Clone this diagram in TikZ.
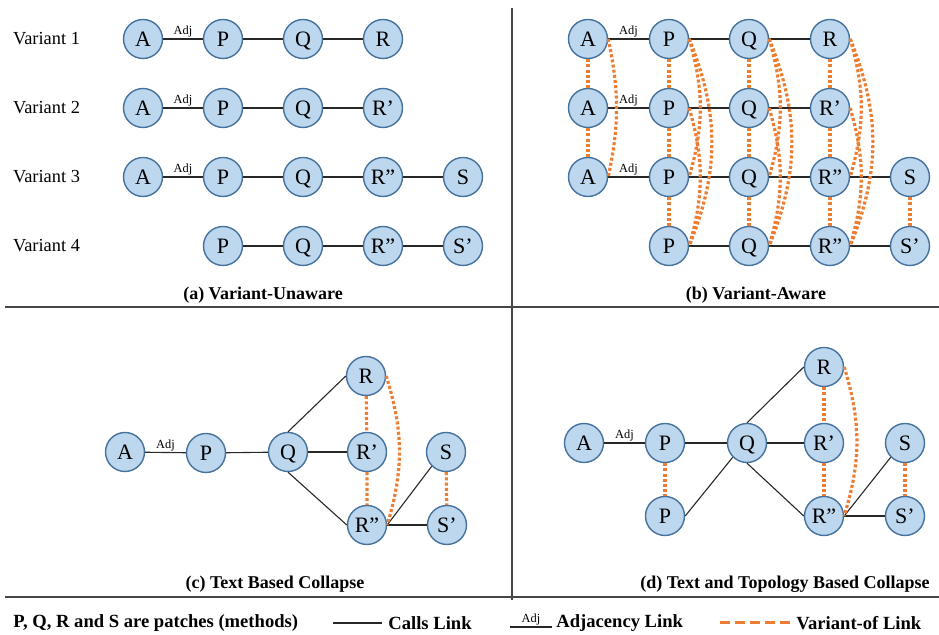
\documentclass[tikz,border=0pt]{standalone}
\usepackage{fontspec}
\setmainfont{Liberation Serif}
\usetikzlibrary{positioning}

\definecolor{patchfill}{RGB}{189,215,238}
\definecolor{patchline}{RGB}{70,114,158}
\definecolor{varorange}{RGB}{237,125,49}
\definecolor{calldark}{RGB}{40,40,40}
\definecolor{framegray}{RGB}{70,70,70}

\tikzset{
  patch/.style={circle, draw=patchline, fill=patchfill, line width=0.7pt,
    minimum size=19.5pt, inner sep=0pt, text height=7.2pt, text depth=0pt,
    font=\fontsize{11}{11}\selectfont},
  calls/.style={draw=calldark, line width=0.55pt},
  varlink/.style={draw=varorange, line width=1.6pt, dash pattern=on 1.5pt off 1.1pt},
  adjlbl/.style={midway, above, inner sep=0.6pt, font=\fontsize{6.2}{6.2}\selectfont},
  rowlbl/.style={anchor=west, font=\fontsize{9.2}{10}\selectfont},
  caption/.style={font=\bfseries\fontsize{9}{10}\selectfont},
  legend/.style={anchor=west, inner sep=0pt, font=\bfseries\fontsize{9.3}{10}\selectfont},
  frame/.style={draw=framegray, line width=0.75pt}
}

\begin{document}
\begin{tikzpicture}[x=0.5pt, y=-0.5pt]
  \useasboundingbox (0,0) rectangle (939,635);

  % frame lines between the four panels
  \draw[frame] (5,307)--(939,307);
  \draw[frame] (5,597)--(939,597);
  \draw[frame] (512,8)--(512,600);

  % (a) one graph per variant
  \node[rowlbl] (lv1) at (6,39) {Variant 1};
  \node[rowlbl] (lv2) at (6,108) {Variant 2};
  \node[rowlbl] (lv3) at (6,177) {Variant 3};
  \node[rowlbl] (lv4) at (6,246) {Variant 4};

  \node[patch] (aA1) at (143,39) {A};
  \node[patch] (aP1) at (223,39) {P};
  \node[patch] (aQ1) at (303,39) {Q};
  \node[patch] (aR1) at (383,39) {R};
  \node[patch] (aA2) at (143,108) {A};
  \node[patch] (aP2) at (223,108) {P};
  \node[patch] (aQ2) at (303,108) {Q};
  \node[patch] (aR2) at (383,108) {R’};
  \node[patch] (aA3) at (143,177) {A};
  \node[patch] (aP3) at (223,177) {P};
  \node[patch] (aQ3) at (303,177) {Q};
  \node[patch] (aR3) at (383,177) {R”};
  \node[patch] (aS3) at (463,177) {S};
  \node[patch] (aP4) at (223,246) {P};
  \node[patch] (aQ4) at (303,246) {Q};
  \node[patch] (aR4) at (383,246) {R”};
  \node[patch] (aS4) at (463,246) {S’};

  \draw[calls] (aA1)--(aP1) node[adjlbl] {Adj};
  \draw[calls] (aP1)--(aQ1) (aQ1)--(aR1);
  \draw[calls] (aA2)--(aP2) node[adjlbl] {Adj};
  \draw[calls] (aP2)--(aQ2) (aQ2)--(aR2);
  \draw[calls] (aA3)--(aP3) node[adjlbl] {Adj};
  \draw[calls] (aP3)--(aQ3) (aQ3)--(aR3) (aR3)--(aS3);
  \draw[calls] (aP4)--(aQ4) (aQ4)--(aR4) (aR4)--(aS4);

  \node[caption] (capa) at (263,295) {(a) Variant-Unaware};

  % (b) variants linked to each other
  \node[patch] (bA1) at (588,39) {A};
  \node[patch] (bP1) at (669,39) {P};
  \node[patch] (bQ1) at (749,39) {Q};
  \node[patch] (bR1) at (830,39) {R};
  \node[patch] (bA2) at (588,108) {A};
  \node[patch] (bP2) at (669,108) {P};
  \node[patch] (bQ2) at (749,108) {Q};
  \node[patch] (bR2) at (830,108) {R’};
  \node[patch] (bA3) at (588,177) {A};
  \node[patch] (bP3) at (669,177) {P};
  \node[patch] (bQ3) at (749,177) {Q};
  \node[patch] (bR3) at (830,177) {R”};
  \node[patch] (bS3) at (910,177) {S};
  \node[patch] (bP4) at (669,246) {P};
  \node[patch] (bQ4) at (749,246) {Q};
  \node[patch] (bR4) at (830,246) {R”};
  \node[patch] (bS4) at (910,246) {S’};

  \draw[calls] (bA1)--(bP1) node[adjlbl] {Adj};
  \draw[calls] (bP1)--(bQ1) (bQ1)--(bR1);
  \draw[calls] (bA2)--(bP2) node[adjlbl] {Adj};
  \draw[calls] (bP2)--(bQ2) (bQ2)--(bR2);
  \draw[calls] (bA3)--(bP3) node[adjlbl] {Adj};
  \draw[calls] (bP3)--(bQ3) (bQ3)--(bR3) (bR3)--(bS3);
  \draw[calls] (bP4)--(bQ4) (bQ4)--(bR4) (bR4)--(bS4);

  \draw[varlink] (bA1)--(bA2) (bA2)--(bA3);
  \draw[varlink] (bA1.east) to[bend left=12] (bA3.east);
  \draw[varlink] (bP1)--(bP2) (bP2)--(bP3) (bP3)--(bP4);
  \draw[varlink] (bP1.east) to[bend left=16] (bP3.east);
  \draw[varlink] (bP1.east) to[bend left=22] (bP4.east);
  \draw[varlink] (bP2.east) to[bend left=16] (bP4.east);
  \draw[varlink] (bQ1)--(bQ2) (bQ2)--(bQ3) (bQ3)--(bQ4);
  \draw[varlink] (bQ1.east) to[bend left=16] (bQ3.east);
  \draw[varlink] (bQ1.east) to[bend left=22] (bQ4.east);
  \draw[varlink] (bQ2.east) to[bend left=16] (bQ4.east);
  \draw[varlink] (bR1)--(bR2) (bR2)--(bR3) (bR3)--(bR4);
  \draw[varlink] (bR1.east) to[bend left=16] (bR3.east);
  \draw[varlink] (bR1.east) to[bend left=22] (bR4.east);
  \draw[varlink] (bR2.east) to[bend left=16] (bR4.east);
  \draw[varlink] (bS3)--(bS4);

  \node[caption] (capb) at (756,295) {(b) Variant-Aware};

  % (c) collapse by text
  \node[patch] (cA) at (125,452) {A};
  \node[patch] (cP) at (206,453) {P};
  \node[patch] (cQ) at (288,452) {Q};
  \node[patch] (cR) at (366,376) {R};
  \node[patch] (cRa) at (367,452) {R’};
  \node[patch] (cRb) at (367,525) {R”};
  \node[patch] (cS) at (446,452) {S};
  \node[patch] (cSa) at (447,525) {S’};

  \draw[calls] (cA)--(cP) node[adjlbl] {Adj};
  \draw[calls] (cP)--(cQ);
  \draw[calls] (cQ.north)--(cR.west);
  \draw[calls] (cQ)--(cRa);
  \draw[calls] (cQ.south)--(cRb.west);
  \draw[calls] (cRb.east)--(cS.south west);
  \draw[calls] (cRb.east)--(cSa.west);

  \draw[varlink] (cR)--(cRa) (cRa)--(cRb);
  \draw[varlink] (cR.east) to[bend left=17] (cRb.east);
  \draw[varlink] (cS)--(cSa);

  \node[caption] (capc) at (275,584) {(c) Text Based Collapse};

  % (d) collapse by text and topology
  \node[patch] (dA) at (584,443) {A};
  \node[patch] (dP) at (665,443) {P};
  \node[patch] (dPa) at (665,516) {P};
  \node[patch] (dQ) at (747,443) {Q};
  \node[patch] (dR) at (824,367) {R};
  \node[patch] (dRa) at (824,443) {R’};
  \node[patch] (dRb) at (824,516) {R”};
  \node[patch] (dS) at (905,443) {S};
  \node[patch] (dSa) at (905,516) {S’};

  \draw[calls] (dA)--(dP) node[adjlbl] {Adj};
  \draw[calls] (dP)--(dQ);
  \draw[calls] (dPa.east)--(dQ.south west);
  \draw[calls] (dQ.north)--(dR.west);
  \draw[calls] (dQ)--(dRa);
  \draw[calls] (dQ.south)--(dRb.west);
  \draw[calls] (dRb.east)--(dS.south west);
  \draw[calls] (dRb.east)--(dSa.west);

  \draw[varlink] (dP)--(dPa);
  \draw[varlink] (dR)--(dRa) (dRa)--(dRb);
  \draw[varlink] (dR.east) to[bend left=17] (dRb.east);
  \draw[varlink] (dS)--(dSa);

  \node[caption] (capd) at (785,584) {(d) Text and Topology Based Collapse};

  % legend
  \node[legend] (legpatch) at (13,623) {P, Q, R and S are patches (methods)};
  \coordinate (lc1) at (333,623);
  \coordinate (lc2) at (382,623);
  \draw[calls] (lc1)--(lc2);
  \node[legend, right=3pt of lc2] (legcalls) {Calls Link};
  \coordinate (la1) at (510,627);
  \coordinate (la2) at (552,627);
  \draw[calls] (la1)--(la2) node[adjlbl] {Adj};
  \node[legend, right=2pt of la2, yshift=2pt] (legadj) {Adjacency Link};
  \coordinate (lv1s) at (720,623);
  \coordinate (lv1e) at (790,623);
  \draw[varlink, dash pattern=on 5pt off 2.5pt, line width=1.5pt] (lv1s)--(lv1e);
  \node[legend, right=3pt of lv1e] (legvar) {Variant-of Link};
\end{tikzpicture}
\end{document}
